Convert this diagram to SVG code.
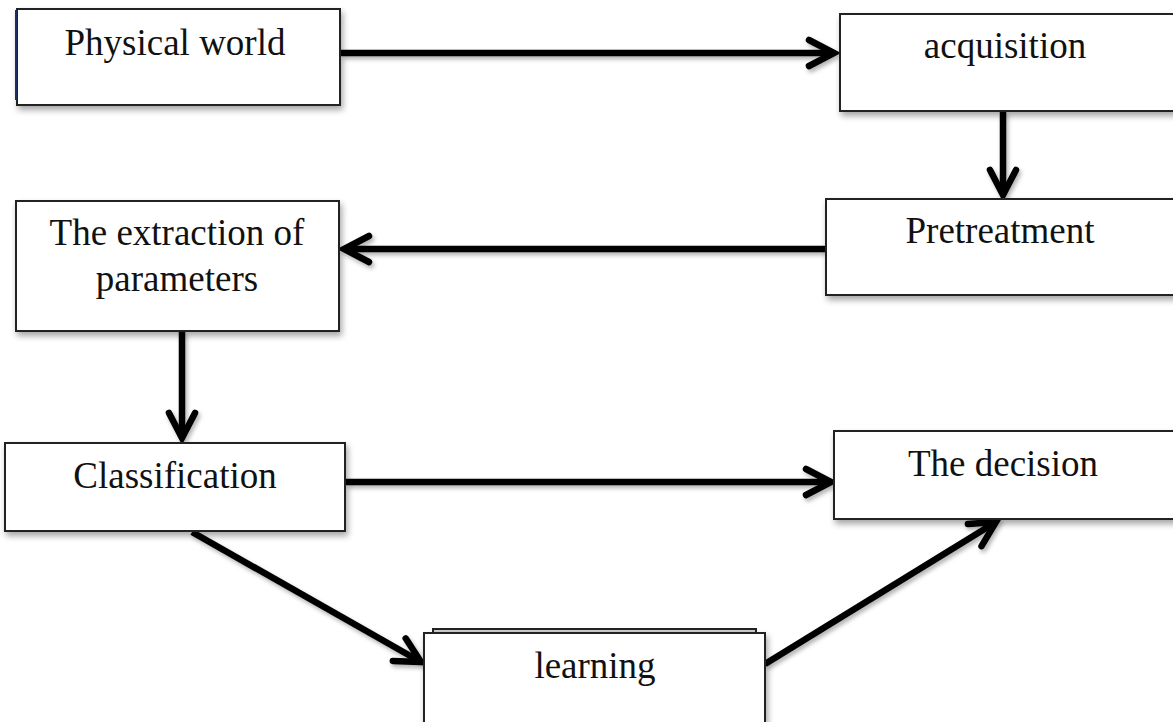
<svg xmlns="http://www.w3.org/2000/svg" width="1173" height="722" viewBox="0 0 1173 722">
<defs>
<filter id="sh" x="-10%" y="-10%" width="130%" height="140%">
<feDropShadow dx="2" dy="4" stdDeviation="3" flood-color="#000" flood-opacity="0.35"/>
</filter>
<filter id="shl" filterUnits="userSpaceOnUse" x="0" y="0" width="1173" height="722">
<feDropShadow dx="2" dy="3" stdDeviation="2" flood-color="#000" flood-opacity="0.3"/>
</filter>
<marker id="ah" markerUnits="userSpaceOnUse" markerWidth="40" markerHeight="40" viewBox="-30 -20 40 40" refX="0" refY="0" orient="auto">
<path d="M-25,-13 L0,0 L-25,13" fill="none" stroke="#000" stroke-width="6.5" stroke-linecap="round" stroke-linejoin="miter"/>
</marker>
</defs>
<style>
.box{fill:#fff;stroke:#222;stroke-width:2;filter:url(#sh)}
.t{font-family:"Liberation Serif","Times New Roman",serif;font-size:37px;fill:#111;text-anchor:middle}
.c{fill:none;stroke:#000;stroke-width:6.5;marker-end:url(#ah)}
</style>
<rect width="1173" height="722" fill="#fff"/>
<g id="connectors" filter="url(#shl)">
<line class="c" x1="341" y1="53" x2="834" y2="53"/>
<line class="c" x1="1003" y1="111" x2="1003" y2="195"/>
<line class="c" x1="826" y1="249" x2="344" y2="249"/>
<line class="c" x1="182" y1="331" x2="182" y2="438"/>
<line class="c" x1="346" y1="482" x2="831" y2="482"/>
<line class="c" x1="192" y1="532" x2="421" y2="662"/>
<line class="c" x1="765" y1="664" x2="996" y2="522"/>
</g>
<g id="physical-world">
<rect class="box" x="17" y="9" width="323" height="96"/>
<line x1="16" y1="10" x2="16" y2="100" stroke="#1a3060" stroke-width="2"/>
<text class="t" x="175" y="55">Physical world</text>
</g>
<g id="acquisition">
<rect class="box" x="840" y="14" width="340" height="97"/>
<text class="t" x="1005" y="58">acquisition</text>
</g>
<g id="pretreatment">
<rect class="box" x="826" y="199" width="354" height="96"/>
<text class="t" x="1000" y="243">Pretreatment</text>
</g>
<g id="extraction">
<rect class="box" x="16" y="201" width="323" height="130"/>
<text class="t" x="177" y="245">The extraction of</text>
<text class="t" x="177" y="291">parameters</text>
</g>
<g id="classification">
<rect class="box" x="5" y="443" width="340" height="88"/>
<text class="t" x="175" y="488">Classification</text>
</g>
<g id="decision">
<rect class="box" x="834" y="431" width="346" height="88"/>
<text class="t" x="1003" y="476">The decision</text>
</g>
<g id="learning">
<rect x="433" y="629" width="323" height="10" fill="#ccc" stroke="#222" stroke-width="2"/>
<rect class="box" x="424" y="633" width="341" height="95"/>
<text class="t" x="595" y="678">learning</text>
</g>
</svg>
